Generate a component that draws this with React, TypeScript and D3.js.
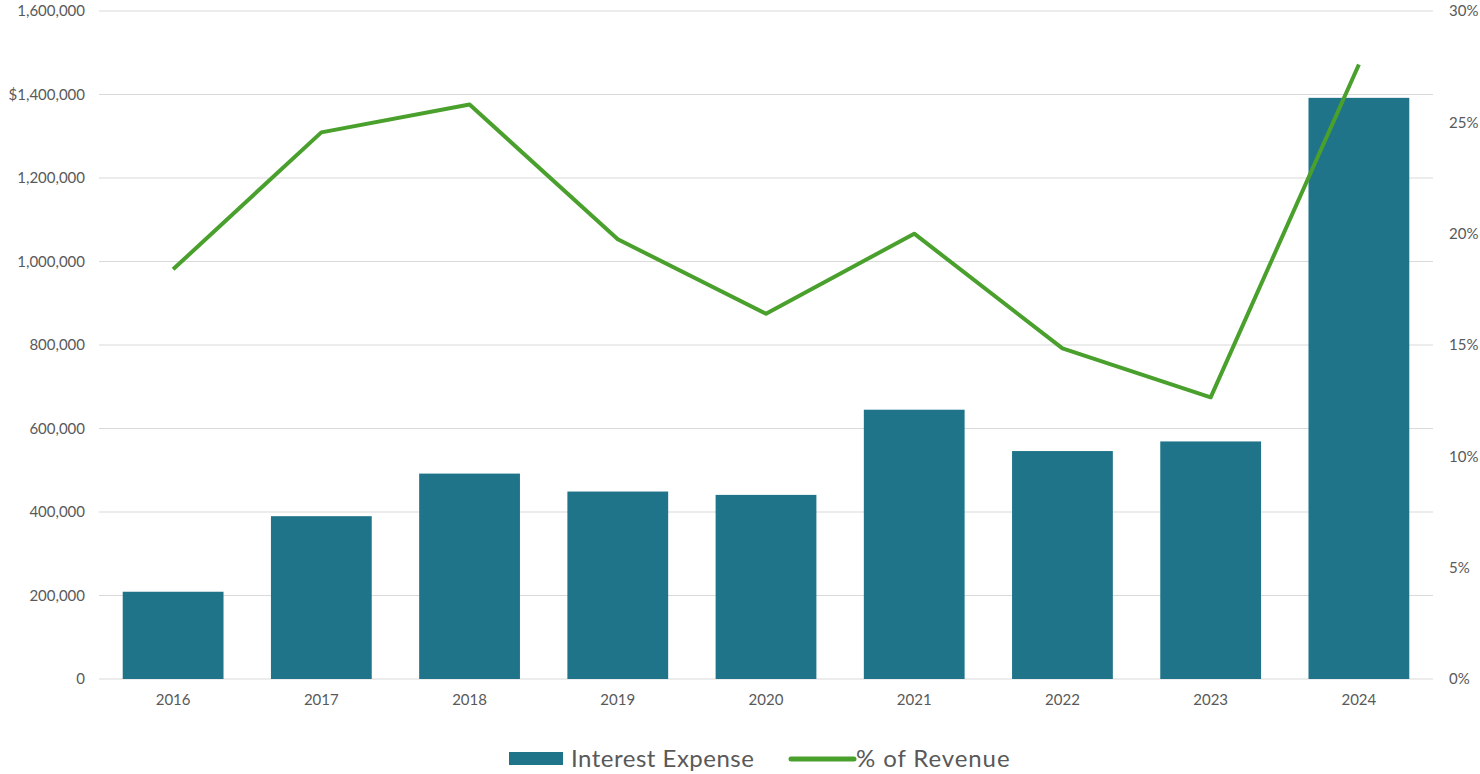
import React from "react";
import * as d3 from "d3";

const years = ["2016", "2017", "2018", "2019", "2020", "2021", "2022", "2023", "2024"];
const interestExpense = [209000, 390000, 492000, 449000, 441000, 645000, 546000, 569000, 1392000];
const pctOfRevenue = [18.4, 24.55, 25.8, 19.75, 16.4, 20.0, 14.85, 12.65, 27.6];
const leftTicks = [0, 200000, 400000, 600000, 800000, 1000000, 1200000, 1400000, 1600000];
const rightTicks = [0, 5, 10, 15, 20, 25, 30];

const W = 1480;
const H = 774;
const left = 99;
const right = 1433;
const top = 11;
const bottom = 679;

const BAR = "#1F7489";
const LINE = "#4AA02C";
const GRID = "#D9D9D9";
const TEXT = "#595959";
const FONT = "Lato, 'Open Sans', sans-serif";

export default function App() {
  const x = d3.scaleBand<string>().domain(years).range([left, right]).paddingInner(0.32).paddingOuter(0.16);
  const y = d3.scaleLinear().domain([0, 1600000]).range([bottom, top]);
  const y2 = d3.scaleLinear().domain([0, 30]).range([bottom, top]);
  const fmt = d3.format(",");
  const line = d3
    .line<number>()
    .x((_, i) => (x(years[i]) as number) + x.bandwidth() / 2)
    .y((d) => y2(d));

  return (
    <svg width={W} height={H} style={{ position: "absolute", left: 0, top: 0, background: "#fff" }} fontFamily={FONT}>
      <rect x={0} y={0} width={W} height={H} fill="#fff" />
      {leftTicks.map((t) => (
        <line key={"g" + t} x1={left} x2={right} y1={y(t)} y2={y(t)} stroke={GRID} strokeWidth={1.2} />
      ))}
      {leftTicks.map((t) => (
        <text key={"l" + t} x={85} y={y(t)} dy="0.35em" textAnchor="end" fontSize={15} fill={TEXT}>
          {(t === 1400000 ? "$" : "") + fmt(t)}
        </text>
      ))}
      {rightTicks.map((t) => (
        <text key={"r" + t} x={1449} y={y2(t)} dy="0.35em" textAnchor="start" fontSize={15} fill={TEXT}>
          {t + "%"}
        </text>
      ))}
      {years.map((yr, i) => (
        <rect
          key={"b" + yr}
          x={x(yr)}
          y={y(interestExpense[i])}
          width={x.bandwidth()}
          height={bottom - y(interestExpense[i])}
          fill={BAR}
        />
      ))}
      {years.map((yr) => (
        <text key={"x" + yr} x={(x(yr) as number) + x.bandwidth() / 2} y={705} textAnchor="middle" fontSize={15} fill={TEXT}>
          {yr}
        </text>
      ))}
      <path d={line(pctOfRevenue) || ""} fill="none" stroke={LINE} strokeWidth={4} strokeLinejoin="round" />
      <g>
        <rect x={509} y={752} width={54} height={13} fill={BAR} />
        <text x={571} y={767} fontSize={24} letterSpacing={0.5} fill={TEXT}>Interest Expense</text>
        <line x1={791} x2={854} y1={759} y2={759} stroke={LINE} strokeWidth={5} strokeLinecap="round" />
        <text x={856} y={767} fontSize={24} letterSpacing={0.9} fill={TEXT}>% of Revenue</text>
      </g>
    </svg>
  );
}
